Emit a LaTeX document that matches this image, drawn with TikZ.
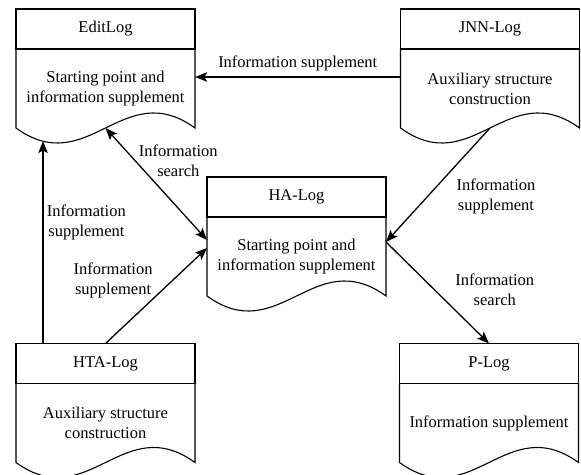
\documentclass[tikz,border=0pt]{standalone}
\usepackage{fontspec}
\setmainfont{Liberation Serif}
\usetikzlibrary{arrows.meta, positioning, calc}

\tikzset{
  loghead/.style={draw, line width=1.1pt, outer sep=0pt, inner sep=0pt, minimum width=179pt, minimum height=40pt},
  logbody/.style={outer sep=0pt, inner sep=0pt, minimum width=179pt, minimum height=79pt, align=center},
  logline/.style={line width=1.1pt},
  flow/.style={->, line width=1.3pt},
  lbl/.style={align=center}
}
% document outline: two sides and the wavy bottom
\newcommand{\logframe}[1]{%
  \draw[logline] (#1.north west) -- (#1.south west)
    .. controls ($(#1.south west)+(72,52)$) and ($(#1.south east)+(-72,-52)$) .. (#1.south east)
    -- (#1.north east);}

\begin{document}
\begin{tikzpicture}[x=1pt, y=-1pt, >={Stealth[length=12pt,width=9.5pt,inset=2.5pt]}, font=\fontsize{16.5}{20}\selectfont]
  \useasboundingbox (0,0) rectangle (581,474);
  % logs
  \node[loghead] (edithead) at (105.5,29) {EditLog};
  \node[logbody, below=0pt of edithead] (editbody) {Starting point and\\information supplement};
  \node[loghead] (jnnhead) at (490,29) {JNN-Log};
  \node[logbody, below=0pt of jnnhead] (jnnbody) {Auxiliary structure\\construction};
  \node[loghead] (hahead) at (296.5,197) {HA-Log};
  \node[logbody, below=0pt of hahead] (habody) {Starting point and\\information supplement};
  \node[loghead] (htahead) at (105.5,363.5) {HTA-Log};
  \node[logbody, below=0pt of htahead] (htabody) {Auxiliary structure\\construction};
  \node[loghead] (phead) at (489,363.5) {P-Log};
  \node[logbody, below=0pt of phead] (pbody) {Information supplement};
  \logframe{editbody}
  \logframe{jnnbody}
  \logframe{habody}
  \logframe{htabody}
  \logframe{pbody}
  % ends of the connectors
  \coordinate (jnnout) at ($(jnnbody.north west)+(0,28)$);
  \coordinate (editdip) at ($(editbody.south west)+(27,13)$);
  \coordinate (htaup) at ($(htahead.north west)+(27,0)$);
  \coordinate (hain1) at ($(habody.north west)+(0,23)$);
  \coordinate (hain2) at ($(habody.north west)+(0,31)$);
  \coordinate (haout) at ($(habody.north east)+(0,25)$);
  % connectors
  \draw[flow] (jnnout) -- node[above, yshift=2pt]{Information supplement} (jnnout -| editbody.east);
  \draw[flow] (htaup) -- node[pos=0.6, right, lbl]{Information\\supplement} (editdip);
  \draw[flow, <->] (editbody.south) -- node[pos=0.29, right, lbl]{Information\\search} (hain1);
  \draw[flow] (htahead.north) -- node[pos=0.66, left, xshift=-16pt, lbl]{Information\\supplement} (hain2);
  \draw[flow] (jnnbody.south) -- node[pos=0.6, right=25pt, lbl]{Information\\supplement} (haout);
  \draw[flow] (haout) -- node[pos=0.47, right=17pt, lbl]{Information\\search} (phead.north);
\end{tikzpicture}
\end{document}
